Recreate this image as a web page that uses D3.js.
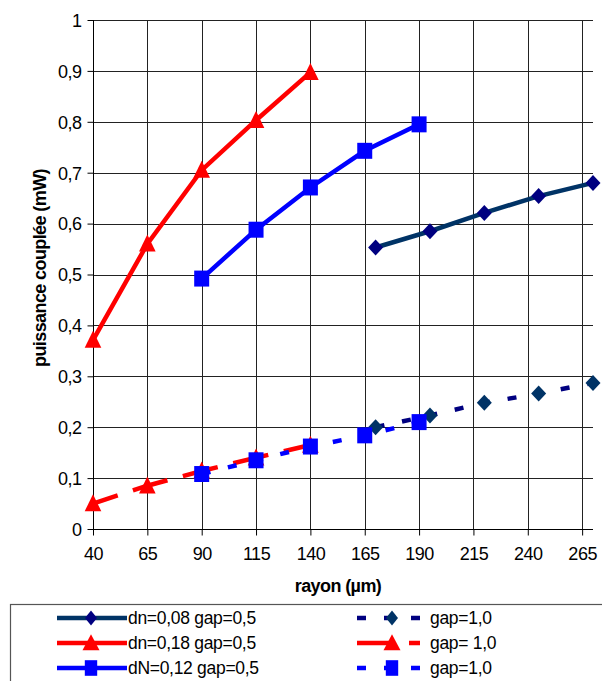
<!DOCTYPE html>
<html>
<head>
<meta charset="utf-8">
<script src="https://cdn.jsdelivr.net/npm/d3@7"></script>
<style>
html,body{margin:0;padding:0;background:#fff;}
svg{display:block;font-family:"Liberation Sans",Arial,sans-serif;}
</style>
</head>
<body>
<svg id="chart" width="602" height="681"></svg>
<script>
// ---- data ----
const xTicks = [40, 65, 90, 115, 140, 165, 190, 215, 240, 265];
const yTicks = [0, 0.1, 0.2, 0.3, 0.4, 0.5, 0.6, 0.7, 0.8, 0.9, 1];
const yTickLabels = ["0", "0,1", "0,2", "0,3", "0,4", "0,5", "0,6", "0,7", "0,8", "0,9", "1"];

const navySolidX = [170, 195, 220, 245, 270];
const navySolidY = [0.553, 0.585, 0.621, 0.654, 0.680];
const navyDashX  = [170, 195, 220, 245, 270];
const navyDashY  = [0.200, 0.223, 0.248, 0.266, 0.287];
const redSolidX  = [40, 65, 90, 115, 140];
const redSolidY  = [0.371, 0.560, 0.705, 0.803, 0.897];
const redDashX   = [40, 65, 90, 115, 140];
const redDashY   = [0.050, 0.085, 0.114, 0.140, 0.165];
const blueSolidX = [90, 115, 140, 165, 190];
const blueSolidY = [0.492, 0.588, 0.671, 0.743, 0.795];
const blueDashX  = [90, 115, 140, 165, 190];
const blueDashY  = [0.108, 0.135, 0.162, 0.184, 0.210];

const legendLabels = ["dn=0,08 gap=0,5", "gap=1,0", "dn=0,18 gap=0,5", "gap= 1,0", "dN=0,12 gap=0,5", "gap=1,0"];

// ---- series definitions (order = draw order) ----
const series = [
  {xs: navySolidX, ys: navySolidY, line: "#003366", mark: "#000080", dash: null, shape: "diamond", label: legendLabels[0], col: 0, row: 0},
  {xs: navyDashX,  ys: navyDashY,  line: "#000080", mark: "#003366", dash: "9,18", shape: "diamond", label: legendLabels[1], col: 1, row: 0},
  {xs: redSolidX,  ys: redSolidY,  line: "#FF0000", mark: "#FF0000", dash: null, shape: "triangle", label: legendLabels[2], col: 0, row: 1},
  {xs: redDashX,   ys: redDashY,   line: "#FF0000", mark: "#FF0000", dash: "36,16", shape: "triangle", label: legendLabels[3], col: 1, row: 1},
  {xs: blueSolidX, ys: blueSolidY, line: "#0000FF", mark: "#0000FF", dash: null, shape: "square", label: legendLabels[4], col: 0, row: 2},
  {xs: blueDashX,  ys: blueDashY,  line: "#0000FF", mark: "#0000FF", dash: "9,18", shape: "square", label: legendLabels[5], col: 1, row: 2}
];

const svg = d3.select("#chart");
const L = 93, R = 593, T = 20, B = 529;
const x = d3.scaleLinear().domain([40, 270]).range([L, R]);
const y = d3.scaleLinear().domain([0, 1]).range([B, T]);

// gridlines
const grid = svg.append("g");
grid.selectAll("line.h").data(yTicks).join("line")
  .attr("x1", L).attr("x2", R)
  .attr("y1", d => Math.round(y(d)) + 0.5).attr("y2", d => Math.round(y(d)) + 0.5)
  .attr("stroke", "#222").attr("stroke-width", 1);
grid.selectAll("line.v").data(xTicks).join("line")
  .attr("y1", T).attr("y2", B)
  .attr("x1", d => Math.round(x(d)) + 0.5).attr("x2", d => Math.round(x(d)) + 0.5)
  .attr("stroke", "#222").attr("stroke-width", 1);

// axes
const yAxis = d3.axisLeft(y).tickValues(yTicks).tickFormat((d, i) => yTickLabels[i]).tickSize(6).tickPadding(6);
const gy = svg.append("g").attr("transform", `translate(${Math.round(L) + 0.5},0)`).call(yAxis);
const xAxis = d3.axisBottom(x).tickValues(xTicks).tickFormat(d => d).tickSize(6).tickPadding(12);
const gx = svg.append("g").attr("transform", `translate(0,${Math.round(B) + 0.5})`).call(xAxis);
[gx, gy].forEach(g => {
  g.select(".domain").remove();
  g.selectAll(".tick line").attr("stroke", "#000");
  g.selectAll(".tick text").attr("font-size", 18).attr("fill", "#000")
    .attr("font-family", "Liberation Sans, Arial, sans-serif").attr("letter-spacing", "-0.5px");
});
svg.append("line").attr("x1", L + 0.5).attr("x2", L + 0.5).attr("y1", T).attr("y2", B + 0.5).attr("stroke", "#000");
svg.append("line").attr("x1", L).attr("x2", R).attr("y1", B + 0.5).attr("y2", B + 0.5).attr("stroke", "#000");
gy.selectAll(".tick text").attr("dy", "0.35em");

// axis titles
svg.append("text").attr("x", 338).attr("y", 592).attr("text-anchor", "middle")
  .attr("font-size", 18).attr("font-weight", "bold").attr("letter-spacing", "-0.6px").text("rayon (µm)");
svg.append("text").attr("transform", "translate(46,268) rotate(-90)").attr("text-anchor", "middle")
  .attr("font-size", 18).attr("font-weight", "bold").attr("letter-spacing", "-0.6px").text("puissance couplée (mW)");

// marker symbols
function markerPath(shape, w, h) {
  if (shape === "diamond") return `M0,${-h}L${w},0L0,${h}L${-w},0Z`;
  if (shape === "square") return `M${-w},${-h}H${w}V${h}H${-w}Z`;
  // triangle (h = total height)
  return `M0,${-h * 0.55}L${w},${h * 0.45}L${-w},${h * 0.45}Z`;
}
const plotSize = {diamond: [7.5, 8], square: [7.5, 8], triangle: [8.3, 17]};
const legSize = {diamond: [6, 7.5], square: [6.2, 7.8], triangle: [8.5, 16]};

const line = d3.line().x(d => x(d[0])).y(d => y(d[1]));
const plot = svg.append("g");
series.forEach(s => {
  const pts = s.xs.map((v, i) => [v, s.ys[i]]);
  const g = plot.append("g");
  g.append("path").attr("d", line(pts)).attr("fill", "none")
    .attr("stroke", s.line).attr("stroke-width", 4.5)
    .attr("stroke-dasharray", s.dash)
    .attr("stroke-dashoffset", s.dash === "36,16" ? 10 : 0);
  const sz = plotSize[s.shape];
  g.selectAll("path.m").data(pts).join("path")
    .attr("d", markerPath(s.shape, sz[0], sz[1]))
    .attr("transform", d => `translate(${x(d[0])},${y(d[1])})`)
    .attr("fill", s.mark);
});

// legend
const lg = svg.append("g");
lg.append("rect").attr("x", 10.5).attr("y", 604.5).attr("width", 600).attr("height", 100)
  .attr("fill", "#fff").attr("stroke", "#555").attr("stroke-width", 1.2);
const rowY = [618, 643, 668];
const colSample = [{x1: 57, x2: 127, mx: 91, tx: 128}, {x1: 357, x2: 420, mx: 392, tx: 430}];
series.forEach(s => {
  const c = colSample[s.col], yy = rowY[s.row];
  lg.append("line").attr("x1", c.x1).attr("x2", c.x2).attr("y1", yy).attr("y2", yy)
    .attr("stroke", s.line).attr("stroke-width", 4.5).attr("stroke-dasharray", s.dash);
  const sz = legSize[s.shape];
  lg.append("path").attr("d", markerPath(s.shape, sz[0], sz[1]))
    .attr("transform", `translate(${c.mx},${yy})`).attr("fill", s.mark);
  lg.append("text").attr("x", c.tx).attr("y", yy).attr("dy", "0.36em")
    .attr("font-size", 17.5).attr("letter-spacing", "-0.3px").attr("fill", "#000")
    .text(s.label);
});
</script>
</body>
</html>
